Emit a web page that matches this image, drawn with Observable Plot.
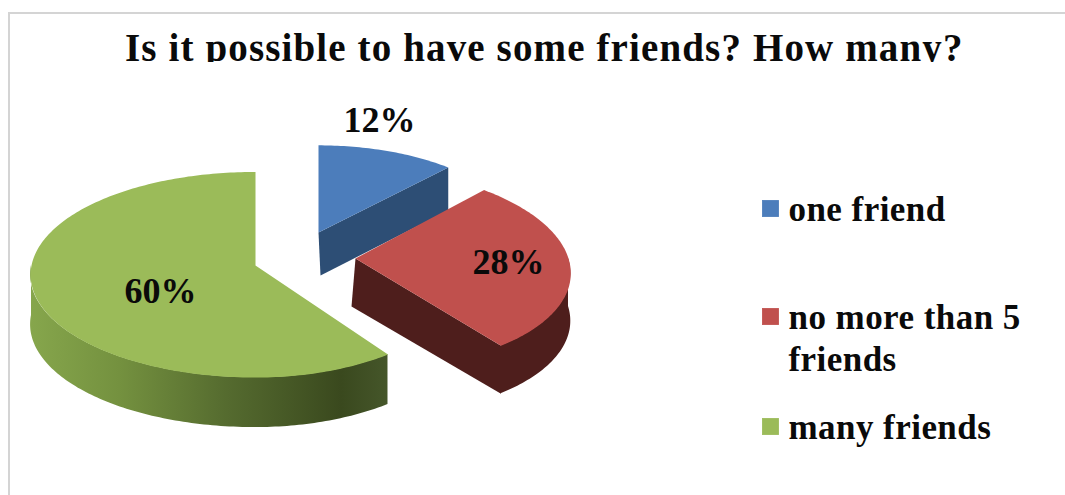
<!DOCTYPE html>
<html>
<head>
<meta charset="utf-8">
<script src="https://cdn.jsdelivr.net/npm/d3@7"></script>
<script src="https://cdn.jsdelivr.net/npm/@observablehq/plot@0.6"></script>
<style>
  html, body { margin: 0; padding: 0; background: #fff; overflow: hidden; }
  body { width: 1065px; height: 495px; position: relative; font-family: "Liberation Serif", serif; }
  #frame { position: absolute; left: 8px; top: 12px; width: 1100px; height: 500px;
           border-top: 2px solid #d4d4d4; border-left: 2px solid #d4d4d4; }
  #title { position: absolute; left: 0; top: 14px; width: 1065px; height: 48px; overflow: hidden;
           font-weight: bold; font-size: 39px; line-height: 68px; color: #0a0a0a; white-space: nowrap; }
  #title span { position: absolute; left: 125px; top: 0; letter-spacing: 1.13px; }
  #chart { position: absolute; left: 0; top: 65px; }
  #chart svg { display: block; background: transparent; }
  .legend-label { letter-spacing: 0.45px; }
</style>
</head>
<body>
<div id="frame"></div>
<div id="title"><span></span></div>
<div id="chart"></div>
<script>
const titleText = "Is it possible to have some friends? How many?";
const categories = ["one friend", "no more than 5\nfriends", "many friends"];
const shares = [12, 28, 60];

// Wedge palette: top face, cut or rim face
const topColors = ["#4c7dbb", "#c0504d", "#9bbb59"];
const sideColors = ["#2d4e75", "#4e1e1c", "url(#greenRim)"];

// Page layout of the exploded pie
const apexX = [318, 355, 255];
const apexY = [232, 258, 265];
const radiusRight = [202, 213, 209];
const radiusY = [95, 100, 102];
const shear = [0, 0.12, 0];
const cutFootShift = [2, -4, 0];
const depths = [43, 48, 50];
const labelX = [379, 508, 160];
const labelY = [120, 262, 291];
const legendY = [209, 317, 427];
const legendTextX = 788, legendSwatchX = 770;
const radiusLeft = 224, perspective = 0.09;
const stripTop = 65;

// Projects a clockwise-from-noon pie angle onto the tilted disc of wedge i
function project(i, angle) {
  const s = Math.sin(angle), c = -Math.cos(angle);
  const p = 1 / (1 - perspective * c);
  const dy = c * radiusY[i] * p;
  return {x: apexX[i] + s * (s < 0 ? radiusLeft : radiusRight[i]) * p + shear[i] * dy,
          y: apexY[i] + dy};
}

const total = d3.sum(shares);
const starts = d3.cumsum([0, ...shares]).map((v) => (v / total) * 2 * Math.PI);

function arc(i, from, to) {
  const n = Math.max(2, Math.ceil(Math.abs(to - from) * 180 / Math.PI));
  return d3.range(n + 1).map((k) => project(i, from + (to - from) * k / n));
}
const apexOf = (i) => ({x: apexX[i], y: apexY[i]});

// Closed outline of the flat face cut from the apex to a rim point
function cutFace(i, rim) {
  return [apexOf(i), rim, {x: rim.x, y: rim.y + depths[i]},
          {x: apexX[i] + cutFootShift[i], y: apexY[i] + depths[i]}, apexOf(i)];
}

const marks = [];

// Horizontal shading of the green rim
marks.push(() => {
  const ns = "http://www.w3.org/2000/svg";
  const defs = document.createElementNS(ns, "defs");
  const grad = document.createElementNS(ns, "linearGradient");
  grad.setAttribute("id", "greenRim");
  [[0, "#86a64c"], [0.25, "#74913f"], [0.55, "#556b2f"], [0.87, "#3a491e"], [1, "#45562a"]].forEach(([o, col]) => {
    const stop = document.createElementNS(ns, "stop");
    stop.setAttribute("offset", o);
    stop.setAttribute("stop-color", col);
    grad.appendChild(stop);
  });
  defs.appendChild(grad);
  return defs;
});

shares.forEach((share, i) => {
  const a0 = starts[i], a1 = starts[i + 1];
  // The cut that faces the viewer: blue's leading edge, red's trailing edge
  if (i < 2) marks.push(Plot.line(cutFace(i, project(i, a1)),
    {x: "x", y: "y", fill: sideColors[i], stroke: "none", curve: "linear"}));
  // Curved rim, only where it turns toward the viewer
  const rimFrom = Math.max(a0, Math.PI / 2), rimTo = Math.min(a1, 1.5 * Math.PI);
  if (rimTo > rimFrom) marks.push(Plot.areaY(
    arc(i, rimFrom, rimTo).map((d) => ({...d, y2: d.y + depths[i]})),
    {x: "x", y1: "y", y2: "y2", fill: sideColors[i]}));
  // Top face
  marks.push(Plot.line([apexOf(i), ...arc(i, a0, a1), apexOf(i)],
    {x: "x", y: "y", fill: topColors[i], stroke: "none", curve: "linear"}));
});

// Percentage labels, read from the same shares that sized the wedges
marks.push(Plot.text(shares, {
  x: (d, i) => labelX[i], y: (d, i) => labelY[i], text: (d) => `${d}%`,
  fontSize: 36, fontWeight: "bold", fill: "#0a0a0a", fontFamily: "Liberation Serif"
}));

// Legend
marks.push(Plot.dot(categories, {
  x: () => legendSwatchX, y: (d, i) => legendY[i] - 1, symbol: "square", r: 9.5,
  fill: (d, i) => topColors[i], stroke: "none"
}));
marks.push(Plot.text(categories, {
  x: () => legendTextX, y: (d, i) => legendY[i] - 2 + (i === 1 ? 21 : 0), text: (d) => d,
  textAnchor: "start", fontSize: 35, fontWeight: "bold", fill: "#0a0a0a",
  fontFamily: "Liberation Serif", lineHeight: 1.2, className: "legend-label"
}));

const chart = Plot.plot({
  width: 1065,
  height: 495 - stripTop,
  margin: 0,
  x: {domain: [0, 1065], range: [0, 1065], axis: null},
  y: {domain: [stripTop, 495], range: [0, 495 - stripTop], axis: null},
  marks
});
document.getElementById("chart").appendChild(chart);
document.querySelector("#title span").textContent = titleText;
</script>
</body>
</html>
